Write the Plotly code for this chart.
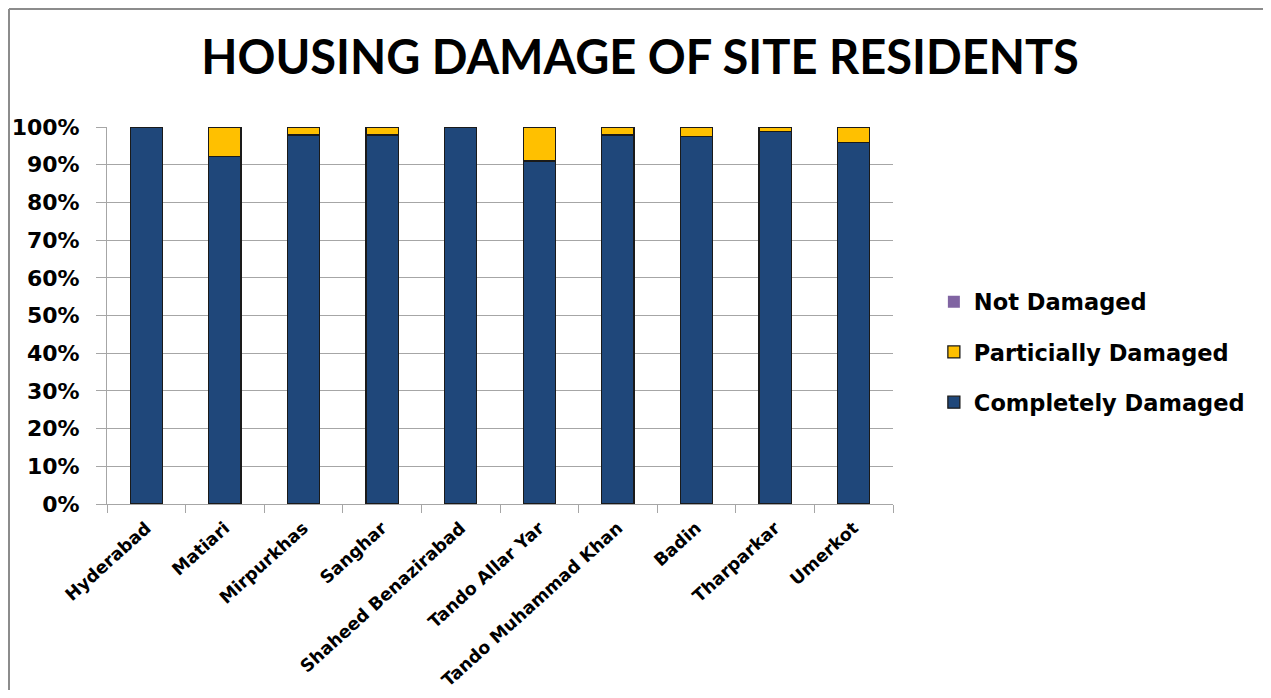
import plotly.graph_objects as go

categories = ["Hyderabad", "Matiari", "Mirpurkhas", "Sanghar", "Shaheed Benazirabad",
              "Tando Allar Yar", "Tando Muhammad Khan", "Badin", "Tharparkar", "Umerkot"]
completely_damaged = [100, 92.2, 97.9, 97.9, 100, 91.0, 97.9, 97.5, 98.9, 95.8]
partially_damaged = [0, 7.8, 2.1, 2.1, 0, 9.0, 2.1, 2.5, 1.1, 4.2]
not_damaged = [0, 0, 0, 0, 0, 0, 0, 0, 0, 0]
y_ticks = [0, 10, 20, 30, 40, 50, 60, 70, 80, 90, 100]

TITLE_FONT = "Lato"
FONT = "DejaVu Sans"
bar_line = dict(color="#1a1a1a", width=1.3)

W, H = 1255, 682
L, R, T, B = 99, 370, 119, 186
PW, PH = W - L - R, H - T - B

fig = go.Figure()
fig.add_trace(go.Bar(x=categories, y=[v / 100 for v in completely_damaged],
                     name="<b>Completely Damaged</b>", legendgroup="c", legendrank=3,
                     marker=dict(color="#1F477A", line=bar_line)))
fig.add_trace(go.Bar(x=categories, y=[v / 100 for v in partially_damaged],
                     name="<b>Particially Damaged</b>", legendgroup="p", legendrank=2,
                     marker=dict(color="#FFC000", line=bar_line)))
fig.add_trace(go.Bar(x=categories, y=[v / 100 for v in not_damaged],
                     name="<b>Not Damaged</b>", legendgroup="n", legendrank=1,
                     marker=dict(color="#8064A2", line=dict(width=0))))

fig.update_layout(
    barmode="stack",
    bargap=0.59,
    width=W, height=H,
    paper_bgcolor="white", plot_bgcolor="white",
    margin=dict(l=L, r=R, t=T, b=B, autoexpand=False),
    title=dict(text="<b>HOUSING DAMAGE OF SITE RESIDENTS</b>", x=(640 - 8) / W, xanchor="center",
               y=1 - 50 / H, yanchor="middle",
               font=dict(family=TITLE_FONT, size=47, color="black")),
    font=dict(family=FONT, color="black"),
    legend=dict(traceorder="grouped", x=1.052, xanchor="left", y=0.403, yanchor="middle",
                font=dict(family=FONT, size=22.5, color="black"),
                itemwidth=30, tracegroupgap=18),
    showlegend=True,
)
fig.update_yaxes(range=[0, 1], tickvals=[v / 100 for v in y_ticks],
                 ticktext=[f"<b>{v}%</b>" for v in y_ticks],
                 showgrid=True, gridcolor="#A6A6A6", gridwidth=1,
                 showline=True, linecolor="#A6A6A6", ticks="outside", ticklen=10,
                 tickcolor="#A6A6A6", tickfont=dict(family=FONT, size=22, color="black"),
                 ticklabelstandoff=12, zeroline=False, fixedrange=True)
fig.update_xaxes(tickvals=categories, ticktext=[f"<b>{c}</b>" for c in categories],
                 tickangle=-42, showline=True, linecolor="#A6A6A6", ticks="outside", ticklen=8,
                 tickcolor="#A6A6A6", tickson="boundaries", ticklabelstandoff=6,
                 tickfont=dict(family=FONT, size=17.5, color="black"))

# chart border (left and top edges visible)
bx = (1 - L) / PW
by = (PH + T - 1) / PH
fig.update_layout(shapes=[
    dict(type="line", xref="paper", yref="paper", x0=bx, x1=bx, y0=-1, y1=by,
         line=dict(color="#8C8C8C", width=2)),
    dict(type="line", xref="paper", yref="paper", x0=bx, x1=2, y0=by, y1=by,
         line=dict(color="#8C8C8C", width=2)),
])

fig.write_html("out.html")
